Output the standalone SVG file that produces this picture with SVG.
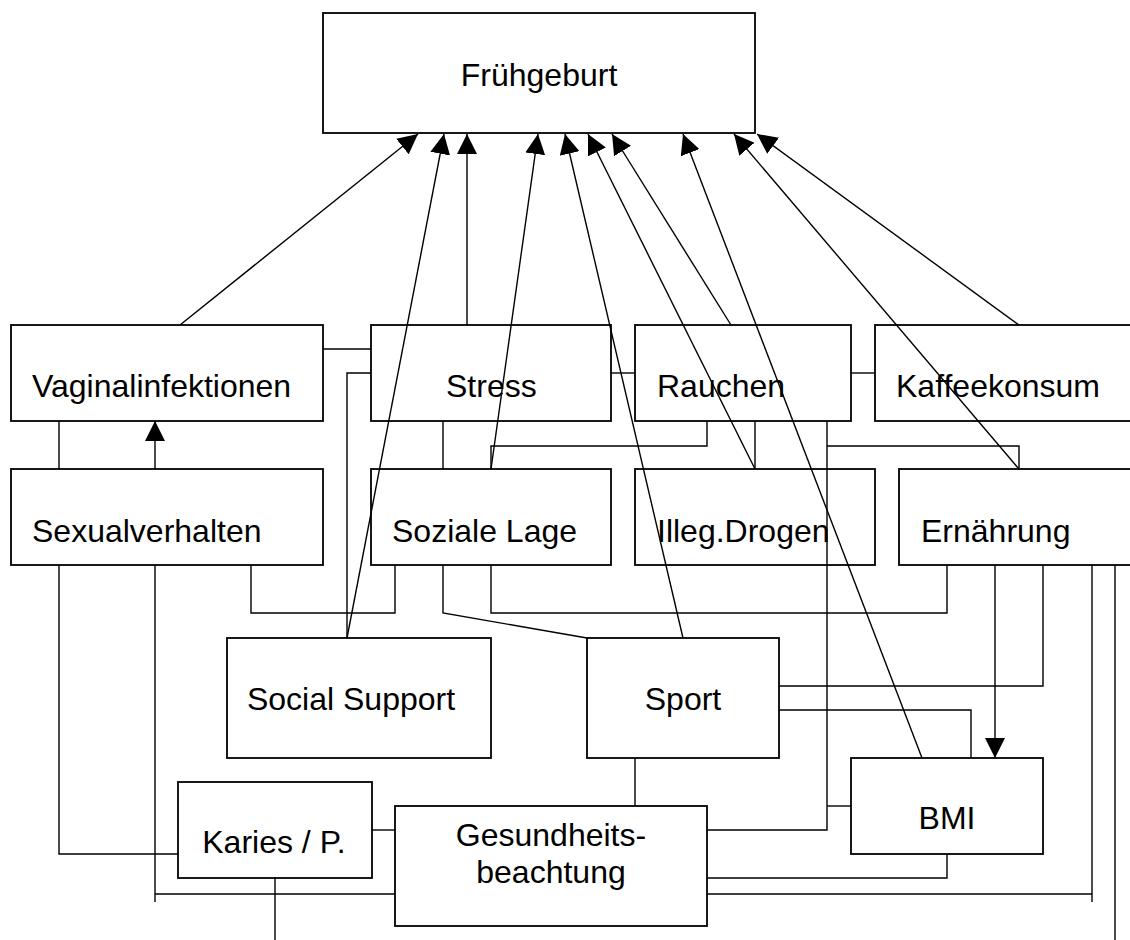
<svg xmlns="http://www.w3.org/2000/svg" width="1130" height="940" viewBox="0 0 1130 940">
<style>
.box{fill:none;stroke:#000;stroke-width:1.8}
.t{font-family:"Liberation Sans",Arial,sans-serif;font-size:32px;fill:#000}
.c{fill:none;stroke:#000;stroke-width:1.4}
.a{marker-end:url(#ah)}
</style>
<defs>
<marker id="ah" markerUnits="userSpaceOnUse" markerWidth="20" markerHeight="20" refX="20" refY="10" orient="auto" viewBox="0 0 20 20">
<path d="M0,0 L20,10 L0,20 z" fill="#000"/>
</marker>
</defs>
<rect width="1130" height="940" fill="#fff"/>
<g id="fruehgeburt"><rect class="box" x="323" y="13" width="432" height="120"/><text class="t" x="539" y="86" text-anchor="middle">Frühgeburt</text></g>
<g id="vaginalinfektionen"><rect class="box" x="11" y="325" width="312" height="96"/><text class="t" x="32" y="397">Vaginalinfektionen</text></g>
<g id="stress"><rect class="box" x="371" y="325" width="240" height="96"/><text class="t" x="446" y="397">Stress</text></g>
<g id="rauchen"><rect class="box" x="635" y="325" width="216" height="96"/><text class="t" x="657" y="397">Rauchen</text></g>
<g id="kaffeekonsum"><rect class="box" x="875" y="325" width="270" height="96"/><text class="t" x="896" y="397">Kaffeekonsum</text></g>
<g id="sexualverhalten"><rect class="box" x="11" y="469" width="312" height="96"/><text class="t" x="32" y="542">Sexualverhalten</text></g>
<g id="soziale-lage"><rect class="box" x="371" y="469" width="240" height="96"/><text class="t" x="392" y="542">Soziale Lage</text></g>
<g id="illeg-drogen"><rect class="box" x="635" y="469" width="240" height="96"/><text class="t" x="657" y="542">Illeg.Drogen</text></g>
<g id="ernaehrung"><rect class="box" x="899" y="469" width="246" height="96"/><text class="t" x="921" y="542">Ernährung</text></g>
<g id="social-support"><rect class="box" x="227" y="638" width="264" height="120"/><text class="t" x="351" y="710" text-anchor="middle">Social Support</text></g>
<g id="sport"><rect class="box" x="587" y="638" width="192" height="120"/><text class="t" x="683" y="710" text-anchor="middle">Sport</text></g>
<g id="bmi"><rect class="box" x="851" y="758" width="192" height="96"/><text class="t" x="947" y="829" text-anchor="middle">BMI</text></g>
<g id="karies"><rect class="box" x="178" y="782" width="194" height="96"/><text class="t" x="274" y="853" text-anchor="middle">Karies / P.</text></g>
<g id="gesundheitsbeachtung"><rect class="box" x="395" y="806" width="312" height="120"/><text class="t" x="551" y="846" text-anchor="middle">Gesundheits-</text><text class="t" x="551" y="883" text-anchor="middle">beachtung</text></g>
<g id="connectors">
<line class="c a" x1="180" y1="325" x2="418" y2="134"/>
<line class="c a" x1="347" y1="638" x2="444" y2="134"/>
<line class="c a" x1="467" y1="325" x2="467" y2="134"/>
<line class="c a" x1="491" y1="469" x2="538" y2="134"/>
<line class="c a" x1="683" y1="638" x2="565" y2="134"/>
<line class="c a" x1="755" y1="469" x2="588" y2="134"/>
<line class="c a" x1="731" y1="325" x2="612" y2="134"/>
<line class="c a" x1="922" y1="758" x2="683" y2="134"/>
<line class="c a" x1="1019" y1="469" x2="734" y2="134"/>
<line class="c a" x1="1019" y1="325" x2="757" y2="134"/>
<polyline class="c" points="323,349 371,349"/>
<polyline class="c" points="371,373 347,373 347,638"/>
<polyline class="c" points="611,373 635,373"/>
<polyline class="c" points="851,373 875,373"/>
<polyline class="c" points="59,421 59,469"/>
<line class="c a" x1="155" y1="469" x2="155" y2="421"/>
<polyline class="c" points="443,421 443,469"/>
<polyline class="c" points="707,421 707,446 491,446 491,469"/>
<polyline class="c" points="755,421 755,469"/>
<polyline class="c" points="827,421 827,830 707,830"/>
<polyline class="c" points="827,446 1019,446 1019,469"/>
<polyline class="c" points="827,806 851,806"/>
<polyline class="c" points="59,565 59,854 178,854"/>
<polyline class="c" points="155,565 155,902"/>
<polyline class="c" points="155,894 395,894"/>
<polyline class="c" points="251,565 251,613 395,613 395,565"/>
<polyline class="c" points="443,565 443,613 587,638"/>
<polyline class="c" points="491,565 491,613 947,613 947,565"/>
<line class="c a" x1="995" y1="565" x2="995" y2="758"/>
<polyline class="c" points="1043,565 1043,686 779,686"/>
<polyline class="c" points="1092,565 1092,902"/>
<polyline class="c" points="707,894 1092,894"/>
<polyline class="c" points="1115,565 1115,940"/>
<polyline class="c" points="779,710 971,710 971,758"/>
<polyline class="c" points="635,758 635,806"/>
<polyline class="c" points="947,854 947,878 707,878"/>
<polyline class="c" points="372,830 395,830"/>
<polyline class="c" points="275,877 275,940"/>
</g>
</svg>
